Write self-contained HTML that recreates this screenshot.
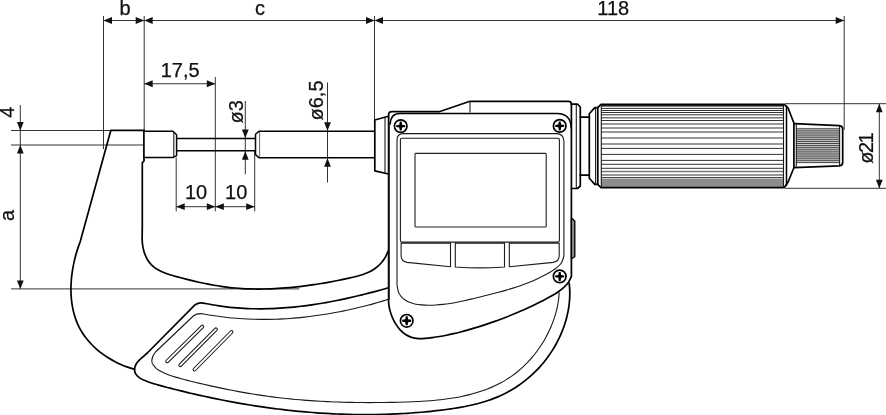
<!DOCTYPE html>
<html lang="de">
<head>
<meta charset="utf-8">
<title>Micrometer drawing</title>
<style>
html,body{margin:0;padding:0;background:#fff;}
body{width:886px;height:415px;overflow:hidden;}
svg{display:block;will-change:transform;}
text{font-family:"Liberation Sans",sans-serif;font-size:20px;fill:#111;stroke:#111;stroke-width:0.25px;}
.n{stroke:#333;stroke-width:1;fill:none;}
.k{stroke:#000;stroke-width:1.7;fill:none;stroke-linejoin:round;stroke-linecap:round;}
.m{stroke:#1a1a1a;stroke-width:1.1;fill:none;stroke-linejoin:round;}
.l{stroke:#222;stroke-width:1.1;fill:none;}
.sc{stroke:#000;stroke-width:2.2;fill:none;}
.sk{stroke:#000;stroke-width:1.7;fill:#fff;}
.g{stroke:#666;stroke-width:1;fill:none;}
.k2{stroke:#000;stroke-width:1.5;fill:none;stroke-linejoin:round;stroke-linecap:round;}
.kn{stroke:#1c1c1c;stroke-width:0.9;}
.kg{stroke:#777;stroke-width:1.5;}
.kr{stroke:#2e2e2e;stroke-width:0.85;}
.ar{fill:#111;stroke:none;}
</style>
</head>
<body>
<svg width="886" height="415" viewBox="0 0 886 415">
<line class="n" x1="103.5" y1="16" x2="103.5" y2="149"/>
<line class="n" x1="144.2" y1="16" x2="144.2" y2="130.3"/>
<line class="n" x1="374.5" y1="16" x2="374.5" y2="120"/>
<line class="n" x1="844.2" y1="16" x2="844.2" y2="130"/>
<line class="n" x1="103.5" y1="20.5" x2="844.2" y2="20.5"/>
<polygon class="ar" points="103.5,20.5 112,17.1 112,23.9"/>
<polygon class="ar" points="144.2,20.5 135.7,17.1 135.7,23.9"/>
<polygon class="ar" points="144.2,20.5 152.7,17.1 152.7,23.9"/>
<polygon class="ar" points="374.5,20.5 366,17.1 366,23.9"/>
<polygon class="ar" points="374.5,20.5 383,17.1 383,23.9"/>
<polygon class="ar" points="844.2,20.5 835.7,17.1 835.7,23.9"/>
<text x="125" y="14.7" text-anchor="middle">b</text>
<text x="260" y="14.7" text-anchor="middle">c</text>
<text x="613.3" y="14.7" text-anchor="middle">118</text>
<line class="n" x1="215.3" y1="77" x2="215.3" y2="211.3"/>
<line class="n" x1="144.2" y1="83.75" x2="215.3" y2="83.75"/>
<polygon class="ar" points="144.2,83.75 152.7,80.35 152.7,87.15"/>
<polygon class="ar" points="215.3,83.75 206.8,80.35 206.8,87.15"/>
<text x="180.2" y="77.4" text-anchor="middle">17,5</text>
<line class="n" x1="11" y1="130.5" x2="111" y2="130.5"/>
<line class="n" x1="11" y1="145" x2="144.2" y2="145"/>
<line class="n" x1="11" y1="288.9" x2="299.3" y2="288.9"/>
<line class="n" x1="20.3" y1="105" x2="20.3" y2="288.9"/>
<polygon class="ar" points="20.3,130.5 16.9,122 23.7,122"/>
<polygon class="ar" points="20.3,145 16.9,153.5 23.7,153.5"/>
<polygon class="ar" points="20.3,288.9 16.9,280.4 23.7,280.4"/>
<text transform="translate(13.9 112.2) rotate(-90)" text-anchor="middle">4</text>
<text transform="translate(14.4 215.5) rotate(-90)" text-anchor="middle">a</text>
<line class="n" x1="176.2" y1="157.5" x2="176.2" y2="211.3"/>
<line class="n" x1="254.7" y1="151" x2="254.7" y2="211.3"/>
<line class="n" x1="176.2" y1="206.7" x2="254.7" y2="206.7"/>
<polygon class="ar" points="176.2,206.7 184.7,203.3 184.7,210.1"/>
<polygon class="ar" points="215.3,206.7 206.8,203.3 206.8,210.1"/>
<polygon class="ar" points="215.3,206.7 223.8,203.3 223.8,210.1"/>
<polygon class="ar" points="254.7,206.7 246.2,203.3 246.2,210.1"/>
<text x="196" y="198.7" text-anchor="middle">10</text>
<text x="236.2" y="198.7" text-anchor="middle">10</text>
<line class="n" x1="245.3" y1="101" x2="245.3" y2="174.3"/>
<polygon class="ar" points="245.3,138 241.9,129.5 248.7,129.5"/>
<polygon class="ar" points="245.3,151.2 241.9,159.7 248.7,159.7"/>
<text transform="translate(242.5 111.75) rotate(-90)" text-anchor="middle">ø3</text>
<line class="n" x1="327.5" y1="82.5" x2="327.5" y2="182.5"/>
<polygon class="ar" points="327.5,130.8 324.1,122.3 330.9,122.3"/>
<polygon class="ar" points="327.5,158.2 324.1,166.7 330.9,166.7"/>
<text transform="translate(322.5 100.5) rotate(-90)" text-anchor="middle">ø6,5</text>
<line class="n" x1="785" y1="103.7" x2="886" y2="103.7"/>
<line class="n" x1="785" y1="188.3" x2="886" y2="188.3"/>
<line class="n" x1="879.3" y1="103.7" x2="879.3" y2="188.3"/>
<polygon class="ar" points="879.3,103.7 875.9,112.2 882.7,112.2"/>
<polygon class="ar" points="879.3,188.3 875.9,179.8 882.7,179.8"/>
<text transform="translate(872.9 148.8) rotate(-90)" text-anchor="middle" style="letter-spacing:-1.5px">ø21</text>
<path class="k" d="M144.2 130.4 L110.8 130.4 L80.2 241.7 C79.8 242.81 78.57 246.11 77.83 248.37 C77.08 250.64 76.38 252.95 75.75 255.29 C75.11 257.62 74.52 260 74 262.39 C73.47 264.78 73 267.2 72.61 269.62 C72.21 272.05 71.88 274.5 71.62 276.95 C71.36 279.39 71.17 281.86 71.06 284.31 C70.96 286.76 70.92 289.21 70.97 291.65 C71.03 294.08 71.16 296.52 71.38 298.92 C71.61 301.33 71.92 303.72 72.33 306.08 C72.74 308.43 73.24 310.77 73.85 313.06 C74.45 315.36 75.15 317.62 75.97 319.83 C76.78 322.04 77.69 324.21 78.73 326.32 C79.76 328.44 80.9 330.5 82.16 332.5 C83.41 334.49 84.78 336.44 86.24 338.31 C87.71 340.18 89.28 342 90.93 343.74 C92.57 345.49 94.32 347.17 96.13 348.77 C97.94 350.38 99.84 351.92 101.79 353.38 C103.74 354.84 105.77 356.23 107.83 357.54 C109.9 358.85 112.03 360.08 114.2 361.23 C116.36 362.38 118.57 363.45 120.81 364.44 C123.04 365.42 125.32 366.32 127.6 367.13 C129.88 367.94 133.35 368.94 134.5 369.3"/>
<path class="k" d="M144 157.5 V161 L142.3 162.8 V226 C142.29 227.18 142.24 230.72 142.22 233.09 C142.2 235.46 142.03 237.82 142.17 240.23 C142.3 242.64 142.55 245.14 143.03 247.55 C143.51 249.95 144.18 252.41 145.06 254.66 C145.93 256.91 147.01 259.12 148.3 261.04 C149.59 262.97 151.12 264.7 152.82 266.21 C154.51 267.71 156.45 268.96 158.47 270.09 C160.48 271.23 162.69 272.15 164.92 273.01 C167.16 273.88 169.53 274.59 171.87 275.3 C174.21 276.01 176.61 276.63 178.97 277.27 C181.33 277.9 183.69 278.52 186.04 279.12 C188.39 279.72 190.73 280.3 193.07 280.86 C195.41 281.41 197.74 281.95 200.07 282.46 C202.4 282.97 204.73 283.46 207.06 283.92 C209.39 284.38 211.72 284.82 214.05 285.23 C216.38 285.63 218.71 286.01 221.05 286.35 C223.39 286.7 225.73 287.01 228.08 287.29 C230.43 287.56 232.78 287.81 235.15 288.02 C237.51 288.23 239.88 288.4 242.25 288.55 C244.63 288.69 247.01 288.8 249.39 288.88 C251.77 288.96 254.16 289.01 256.55 289.03 C258.94 289.05 261.33 289.04 263.73 289 C266.12 288.96 268.52 288.9 270.92 288.81 C273.32 288.71 275.72 288.6 278.11 288.45 C280.51 288.31 282.91 288.14 285.31 287.95 C287.7 287.76 290.1 287.55 292.49 287.31 C294.88 287.07 297.28 286.82 299.66 286.54 C302.05 286.26 304.43 285.96 306.81 285.64 C309.19 285.33 311.56 284.99 313.93 284.64 C316.29 284.28 318.66 283.91 321.01 283.53 C323.36 283.14 325.71 282.74 328.05 282.32 C330.39 281.91 332.72 281.48 335.04 281.03 C337.36 280.59 339.68 280.13 341.99 279.65 C344.31 279.17 346.62 278.67 348.95 278.14 C351.27 277.61 353.61 277.07 355.94 276.46 C358.27 275.85 360.66 275.26 362.94 274.48 C365.22 273.71 367.51 272.87 369.64 271.8 C371.76 270.73 373.82 269.48 375.7 268.05 C377.59 266.63 379.36 265.01 380.94 263.25 C382.51 261.49 383.95 259.55 385.16 257.5 C386.37 255.44 387.69 252 388.2 250.9"/>
<path class="k" d="M388.5 287.8 C387.36 288.12 383.93 289.09 381.64 289.72 C379.35 290.35 377.06 290.98 374.76 291.59 C372.46 292.2 370.15 292.8 367.84 293.39 C365.53 293.99 363.22 294.57 360.9 295.13 C358.58 295.7 356.26 296.25 353.93 296.79 C351.61 297.33 349.28 297.86 346.94 298.38 C344.61 298.89 342.27 299.39 339.93 299.87 C337.59 300.35 335.25 300.82 332.9 301.27 C330.55 301.72 328.2 302.16 325.85 302.57 C323.5 302.99 321.14 303.39 318.79 303.77 C316.43 304.15 314.07 304.51 311.71 304.85 C309.34 305.2 306.98 305.52 304.61 305.82 C302.25 306.12 299.88 306.4 297.51 306.66 C295.14 306.92 292.77 307.16 290.4 307.37 C288.03 307.58 285.65 307.78 283.28 307.94 C280.91 308.11 278.53 308.25 276.16 308.37 C273.78 308.49 271.4 308.59 269.03 308.65 C266.65 308.72 264.27 308.76 261.9 308.78 C259.52 308.79 257.14 308.78 254.77 308.74 C252.39 308.7 250.01 308.63 247.64 308.53 C245.26 308.43 242.89 308.31 240.51 308.15 C238.14 307.99 235.76 307.81 233.39 307.59 C231.02 307.37 228.65 307.12 226.28 306.84 C223.91 306.55 221.54 306.24 219.18 305.89 C216.81 305.54 214.44 305.16 212.08 304.75 C209.72 304.33 206.18 303.62 205 303.4 Q199 301.9 195.2 304.7 L147.8 352.5 C147.08 353.15 144.9 355.13 143.5 356.4 C142.1 357.67 140.62 358.83 139.4 360.1 C138.18 361.37 137 362.58 136.2 364 C135.4 365.42 134.73 367.03 134.6 368.6 C134.47 370.17 134.63 371.9 135.4 373.4 C136.17 374.9 137.52 376.37 139.2 377.6 C140.88 378.83 143.07 379.77 145.5 380.8 C147.93 381.83 151.29 382.99 153.8 383.8 C156.31 384.61 158.31 385.04 160.57 385.65 C162.83 386.26 165.09 386.86 167.36 387.45 C169.63 388.04 171.89 388.62 174.16 389.2 C176.43 389.78 178.71 390.34 180.98 390.9 C183.26 391.46 185.53 392.01 187.81 392.55 C190.09 393.09 192.38 393.63 194.66 394.15 C196.95 394.68 199.23 395.19 201.52 395.7 C203.81 396.2 206.1 396.7 208.39 397.19 C210.69 397.68 212.98 398.16 215.28 398.63 C217.58 399.1 219.88 399.56 222.18 400.01 C224.48 400.46 226.78 400.9 229.09 401.34 C231.39 401.77 233.7 402.19 236.01 402.61 C238.31 403.02 240.62 403.42 242.94 403.82 C245.25 404.21 247.56 404.6 249.88 404.97 C252.19 405.34 254.51 405.71 256.83 406.06 C259.14 406.41 261.46 406.76 263.78 407.09 C266.11 407.42 268.43 407.75 270.75 408.06 C273.08 408.37 275.4 408.67 277.73 408.97 C280.05 409.26 282.38 409.54 284.71 409.81 C287.04 410.08 289.37 410.34 291.7 410.59 C294.03 410.83 296.36 411.07 298.7 411.3 C301.03 411.52 303.36 411.74 305.7 411.94 C308.04 412.15 310.37 412.34 312.71 412.52 C315.05 412.7 317.38 412.87 319.72 413.03 C322.06 413.19 324.4 413.34 326.74 413.47 C329.08 413.61 331.42 413.73 333.76 413.84 C336.1 413.95 338.45 414.05 340.79 414.14 C343.13 414.23 345.47 414.31 347.82 414.37 C350.16 414.43 352.5 414.49 354.85 414.52 C357.19 414.56 359.54 414.59 361.88 414.6 C364.23 414.62 366.57 414.62 368.92 414.61 C371.26 414.6 373.61 414.58 375.95 414.54 C378.3 414.5 380.65 414.46 382.99 414.39 C385.34 414.33 387.68 414.26 390.03 414.17 C392.37 414.08 394.72 413.98 397.07 413.87 C399.41 413.75 401.76 413.63 404.1 413.49 C406.45 413.35 408.79 413.19 411.14 413.02 C413.48 412.86 415.83 412.68 418.17 412.48 C420.52 412.29 422.86 412.08 425.2 411.85 C427.55 411.63 429.89 411.4 432.23 411.15 C434.57 410.9 436.92 410.63 439.26 410.35 C441.6 410.07 443.94 409.78 446.28 409.47 C448.61 409.16 450.95 408.83 453.28 408.48 C455.6 408.12 457.93 407.75 460.24 407.34 C462.55 406.93 464.86 406.5 467.15 406.02 C469.44 405.55 471.73 405.05 473.99 404.5 C476.26 403.95 478.51 403.37 480.75 402.74 C482.98 402.11 485.2 401.44 487.4 400.71 C489.6 399.98 491.77 399.21 493.93 398.37 C496.08 397.54 498.21 396.65 500.32 395.7 C502.42 394.75 504.5 393.74 506.55 392.67 C508.6 391.6 510.63 390.46 512.62 389.26 C514.6 388.07 516.56 386.81 518.48 385.5 C520.4 384.18 522.29 382.81 524.14 381.38 C525.99 379.95 527.8 378.47 529.56 376.93 C531.33 375.4 533.06 373.8 534.74 372.16 C536.41 370.52 538.05 368.83 539.64 367.08 C541.22 365.34 542.76 363.55 544.25 361.71 C545.73 359.87 547.17 357.99 548.55 356.06 C549.92 354.13 551.25 352.16 552.51 350.15 C553.78 348.14 554.98 346.1 556.13 344.02 C557.27 341.94 558.35 339.82 559.37 337.69 C560.38 335.55 561.33 333.38 562.21 331.18 C563.09 328.99 563.9 326.77 564.64 324.54 C565.37 322.31 566.04 320.05 566.62 317.79 C567.21 315.52 567.72 313.23 568.15 310.94 C568.57 308.66 568.92 306.35 569.19 304.05 C569.45 301.74 569.63 299.43 569.73 297.12 C569.82 294.81 569.82 292.5 569.74 290.2 C569.65 287.89 569.29 284.45 569.2 283.3"/>
<path class="m" d="M388.5 299.3 C387.35 299.65 383.92 300.7 381.62 301.37 C379.32 302.05 377.02 302.71 374.71 303.35 C372.4 304 370.09 304.62 367.77 305.23 C365.45 305.84 363.13 306.43 360.8 307.01 C358.47 307.58 356.14 308.14 353.8 308.68 C351.46 309.21 349.12 309.73 346.77 310.24 C344.43 310.74 342.08 311.22 339.73 311.68 C337.37 312.15 335.02 312.59 332.66 313.02 C330.3 313.44 327.94 313.85 325.57 314.23 C323.2 314.62 320.84 314.99 318.46 315.33 C316.09 315.67 313.72 316 311.34 316.3 C308.97 316.6 306.59 316.89 304.21 317.15 C301.83 317.41 299.45 317.65 297.06 317.86 C294.68 318.08 292.29 318.27 289.91 318.44 C287.52 318.62 285.13 318.76 282.74 318.89 C280.35 319.02 277.96 319.12 275.57 319.2 C273.18 319.28 270.79 319.33 268.4 319.37 C266.01 319.4 263.62 319.4 261.22 319.39 C258.83 319.37 256.44 319.33 254.05 319.26 C251.66 319.19 249.27 319.1 246.88 318.99 C244.49 318.87 242.1 318.73 239.71 318.56 C237.32 318.39 234.93 318.19 232.55 317.97 C230.16 317.75 227.78 317.5 225.39 317.22 C223.01 316.95 220.63 316.65 218.25 316.32 C215.87 315.99 213.49 315.63 211.12 315.24 C208.74 314.86 205.19 314.21 204 314 Q197.5 312.8 193.3 316 L155.5 352 Q150.5 358 152.3 363.5 C153.03 364.39 154.97 367.36 156.68 368.81 C158.4 370.27 160.55 371.21 162.59 372.23 C164.63 373.24 166.78 374.08 168.93 374.9 C171.07 375.72 173.26 376.44 175.46 377.13 C177.67 377.82 179.91 378.44 182.15 379.05 C184.4 379.66 186.67 380.21 188.94 380.78 C191.21 381.35 193.49 381.9 195.78 382.44 C198.06 382.99 200.36 383.53 202.65 384.06 C204.95 384.59 207.25 385.12 209.56 385.63 C211.86 386.15 214.17 386.65 216.49 387.15 C218.8 387.65 221.12 388.13 223.44 388.61 C225.76 389.09 228.08 389.55 230.4 390.01 C232.72 390.46 235.05 390.91 237.37 391.34 C239.7 391.77 242.03 392.19 244.35 392.6 C246.68 393.01 249 393.4 251.33 393.78 C253.65 394.17 255.97 394.53 258.29 394.89 C260.61 395.24 262.93 395.58 265.25 395.91 C267.56 396.24 269.88 396.55 272.19 396.85 C274.5 397.15 276.81 397.43 279.12 397.7 C281.43 397.98 283.74 398.24 286.05 398.48 C288.35 398.73 290.66 398.96 292.97 399.18 C295.27 399.41 297.58 399.61 299.88 399.81 C302.19 400.01 304.49 400.19 306.8 400.37 C309.1 400.54 311.41 400.7 313.72 400.86 C316.02 401.01 318.33 401.15 320.64 401.28 C322.95 401.41 325.26 401.53 327.57 401.63 C329.88 401.74 332.2 401.84 334.51 401.93 C336.83 402.02 339.14 402.1 341.46 402.17 C343.78 402.24 346.1 402.3 348.43 402.35 C350.76 402.4 353.08 402.44 355.41 402.48 C357.75 402.51 360.08 402.54 362.42 402.55 C364.76 402.57 367.1 402.58 369.44 402.58 C371.79 402.58 374.14 402.58 376.5 402.56 C378.85 402.55 381.21 402.53 383.57 402.5 C385.94 402.47 388.31 402.44 390.68 402.4 C393.06 402.35 395.44 402.31 397.82 402.25 C400.21 402.2 402.6 402.14 404.99 402.06 C407.38 401.99 409.78 401.91 412.17 401.81 C414.57 401.71 416.96 401.6 419.35 401.47 C421.74 401.33 424.14 401.19 426.52 401.02 C428.91 400.84 431.29 400.65 433.66 400.44 C436.03 400.22 438.4 399.98 440.76 399.71 C443.11 399.44 445.46 399.14 447.8 398.81 C450.13 398.48 452.46 398.12 454.77 397.72 C457.08 397.32 459.38 396.89 461.65 396.42 C463.93 395.94 466.2 395.43 468.44 394.88 C470.68 394.33 472.91 393.73 475.12 393.09 C477.32 392.45 479.5 391.77 481.66 391.03 C483.82 390.29 485.96 389.51 488.07 388.67 C490.18 387.83 492.26 386.94 494.32 385.99 C496.38 385.05 498.4 384.05 500.4 382.98 C502.4 381.92 504.37 380.8 506.3 379.61 C508.23 378.42 510.14 377.18 512 375.86 C513.87 374.55 515.7 373.17 517.49 371.71 C519.28 370.26 521.04 368.74 522.75 367.15 C524.47 365.56 526.14 363.9 527.77 362.19 C529.39 360.48 530.98 358.7 532.51 356.87 C534.04 355.04 535.52 353.16 536.95 351.23 C538.38 349.31 539.75 347.33 541.06 345.31 C542.38 343.3 543.64 341.24 544.83 339.15 C546.02 337.07 547.15 334.94 548.22 332.79 C549.28 330.64 550.28 328.46 551.2 326.26 C552.13 324.06 552.98 321.84 553.76 319.61 C554.54 317.37 555.24 315.12 555.86 312.86 C556.49 310.61 557.03 308.34 557.49 306.07 C557.95 303.81 558.32 301.54 558.61 299.27 C558.89 297.01 559.1 293.63 559.2 292.5"/>
<line x1="202.3" y1="326.6" x2="167.2" y2="361.3" stroke="#111" stroke-width="3.9" stroke-linecap="round"/>
<line x1="202.3" y1="326.6" x2="167.2" y2="361.3" stroke="#fff" stroke-width="1.9" stroke-linecap="round"/>
<line x1="215.9" y1="329.4" x2="180.3" y2="365.2" stroke="#111" stroke-width="3.9" stroke-linecap="round"/>
<line x1="215.9" y1="329.4" x2="180.3" y2="365.2" stroke="#fff" stroke-width="1.9" stroke-linecap="round"/>
<line x1="231.5" y1="332" x2="194.5" y2="369.5" stroke="#111" stroke-width="3.9" stroke-linecap="round"/>
<line x1="231.5" y1="332" x2="194.5" y2="369.5" stroke="#fff" stroke-width="1.9" stroke-linecap="round"/>
<path class="k2" d="M143.9 131.2 H172.9 L176.6 134.7 V155.7 L172.9 157.5 H143.9"/>
<line class="k" x1="143.9" y1="130.4" x2="143.9" y2="157.5"/>
<line class="m" x1="173.8" y1="131.8" x2="173.8" y2="157"/>
<line class="k2" x1="176.6" y1="138.5" x2="255.5" y2="138.5"/>
<line class="k2" x1="176.6" y1="150.7" x2="255.5" y2="150.7"/>
<path class="k2" d="M374.5 131.2 H259 L255.5 134.3 V154.6 L259 157.7 H374.5"/>
<line class="g" x1="259.6" y1="132" x2="259.6" y2="156.8"/>
<path class="k" d="M388.5 116.3 L374.8 120 V170.8 L388.5 174"/>
<line class="m" x1="385" y1="117.3" x2="385" y2="173.2"/>
<path class="k" d="M388.6 297 V115 Q388.6 111.7 392 111.7 H439.2 L470 101.3 H568.5 Q571.4 101.3 571.4 104 V276.5 C570.89 277.5 569.63 280.66 568.37 282.49 C567.11 284.31 565.5 285.89 563.83 287.43 C562.17 288.96 560.29 290.35 558.36 291.7 C556.44 293.04 554.36 294.27 552.29 295.48 C550.22 296.69 548.06 297.82 545.93 298.95 C543.8 300.08 541.65 301.17 539.52 302.25 C537.38 303.32 535.24 304.37 533.1 305.4 C530.95 306.43 528.81 307.43 526.66 308.41 C524.51 309.39 522.36 310.35 520.2 311.29 C518.05 312.23 515.89 313.15 513.73 314.04 C511.56 314.94 509.39 315.82 507.22 316.67 C505.04 317.53 502.86 318.36 500.68 319.18 C498.49 320 496.3 320.8 494.1 321.58 C491.9 322.37 489.69 323.13 487.48 323.88 C485.26 324.63 483.04 325.36 480.81 326.07 C478.58 326.79 476.34 327.49 474.09 328.17 C471.84 328.85 469.58 329.51 467.31 330.15 C465.04 330.79 462.76 331.41 460.47 332 C458.18 332.59 455.88 333.16 453.57 333.69 C451.26 334.23 448.94 334.74 446.6 335.21 C444.26 335.68 441.92 336.13 439.55 336.53 C437.19 336.94 434.81 337.32 432.43 337.64 C430.05 337.96 427.63 338.3 425.26 338.45 C422.89 338.6 420.51 338.72 418.23 338.54 C415.95 338.37 413.7 338.06 411.6 337.39 C409.49 336.73 407.46 335.77 405.59 334.55 C403.72 333.33 401.96 331.78 400.35 330.1 C398.75 328.41 397.27 326.45 395.97 324.41 C394.66 322.38 393.5 320.14 392.52 317.88 C391.54 315.63 390.71 313.23 390.08 310.88 C389.46 308.54 389 306.11 388.75 303.8 C388.5 301.48 388.62 298.13 388.6 297"/>
<line class="m" x1="470" y1="101.3" x2="470" y2="112.5"/>
<path class="k2" d="M390.2 124 Q390.6 113.5 400 113.5 H557 Q571 113.8 571.2 128"/>
<path class="m" d="M389.2 300 V124 L390.2 122"/>
<path class="m" d="M563.9 256 V141 Q563.5 133.6 556.5 133.6 H403.5 Q397 133.6 397 140 V285 C397.29 286.27 397.78 290.42 398.72 292.63 C399.66 294.83 401.07 296.69 402.64 298.23 C404.21 299.77 406.13 300.92 408.13 301.87 C410.13 302.82 412.4 303.43 414.66 303.93 C416.93 304.44 419.37 304.68 421.74 304.89 C424.11 305.1 426.52 305.16 428.9 305.18 C431.28 305.2 433.65 305.12 436.01 304.99 C438.37 304.86 440.73 304.65 443.07 304.39 C445.42 304.13 447.76 303.8 450.09 303.43 C452.43 303.07 454.75 302.65 457.08 302.2 C459.4 301.75 461.72 301.26 464.03 300.75 C466.34 300.24 468.65 299.7 470.96 299.16 C473.27 298.61 475.58 298.04 477.88 297.48 C480.18 296.91 482.49 296.35 484.78 295.78 C487.08 295.21 489.38 294.64 491.67 294.06 C493.97 293.47 496.26 292.88 498.54 292.27 C500.82 291.67 503.1 291.05 505.37 290.4 C507.63 289.75 509.89 289.09 512.14 288.39 C514.39 287.69 516.64 286.97 518.86 286.22 C521.09 285.46 523.31 284.67 525.52 283.83 C527.72 283 529.91 282.13 532.09 281.21 C534.26 280.29 536.42 279.33 538.57 278.31 C540.71 277.29 542.84 276.23 544.95 275.1 C547.05 273.97 549.19 272.81 551.21 271.53 C553.23 270.26 555.35 268.98 557.09 267.46 C558.83 265.95 560.52 264.36 561.66 262.45 C562.79 260.54 563.53 257.07 563.9 256"/>
<rect class="m" x="400.4" y="138.2" width="159" height="103.9" rx="1.5"/>
<rect class="l" x="415" y="153.4" width="131.2" height="73.6" rx="0.8"/>
<path class="m" d="M401.9 243.1 H450.5 V266.7 L407 262.4 Q401.1 261.4 401.1 255.5 V243.1 Z"/>
<path class="m" d="M455.3 243.1 H504.5 V267 Q480 268.8 455.3 267 Z"/>
<path class="m" d="M509.3 243.1 H559.2 V255.5 Q559.2 261.4 553.3 262.4 L509.3 266.7 Z"/>
<path d="M571.4 218 L574.8 221 V256.8 L571.4 258.8 Z" fill="#8a8a8a" stroke="#000" stroke-width="1.3" stroke-linejoin="round"/>
<circle class="sk" cx="400.7" cy="126.1" r="6.3"/>
<polygon fill="#000" points="402.15,124.65 405.2,125.15 405.2,127.05 402.15,127.55 401.65,130.6 399.75,130.6 399.25,127.55 396.2,127.05 396.2,125.15 399.25,124.65 399.75,121.6 401.65,121.6"/>
<circle class="sk" cx="559.7" cy="125.9" r="6.3"/>
<polygon fill="#000" points="561.15,124.45 564.2,124.95 564.2,126.85 561.15,127.35 560.65,130.4 558.75,130.4 558.25,127.35 555.2,126.85 555.2,124.95 558.25,124.45 558.75,121.4 560.65,121.4"/>
<circle class="sk" cx="406.7" cy="320.8" r="6.3"/>
<polygon fill="#000" points="408.15,319.35 411.2,319.85 411.2,321.75 408.15,322.25 407.65,325.3 405.75,325.3 405.25,322.25 402.2,321.75 402.2,319.85 405.25,319.35 405.75,316.3 407.65,316.3"/>
<circle class="sk" cx="559.7" cy="276.4" r="6.3"/>
<polygon fill="#000" points="561.15,274.95 564.2,275.45 564.2,277.35 561.15,277.85 560.65,280.9 558.75,280.9 558.25,277.85 555.2,277.35 555.2,275.45 558.25,274.95 558.75,271.9 560.65,271.9"/>
<path class="k" d="M571.4 104.2 H577.5 L580.3 107 V186 L577.5 188.5 H571.4"/>
<line class="m" x1="576.3" y1="104.8" x2="576.3" y2="188"/>
<line class="k" x1="580.3" y1="117.1" x2="589.2" y2="117.1"/>
<line class="k" x1="580.3" y1="175.1" x2="589.2" y2="175.1"/>
<line class="kn" x1="601.2" y1="108.4" x2="783.5" y2="108.4"/>
<line class="kn" x1="601.2" y1="110.5" x2="783.5" y2="110.5"/>
<line class="kn" x1="601.2" y1="112.5" x2="783.5" y2="112.5"/>
<line class="kn" x1="601.2" y1="114.8" x2="783.5" y2="114.8"/>
<line class="kg" x1="601.2" y1="117.7" x2="783.5" y2="117.7"/>
<line class="kn" x1="601.2" y1="120.5" x2="783.5" y2="120.5"/>
<line class="kg" x1="601.2" y1="123.9" x2="783.5" y2="123.9"/>
<line class="kg" x1="601.2" y1="127.9" x2="783.5" y2="127.9"/>
<line class="kg" x1="601.2" y1="132" x2="783.5" y2="132"/>
<line class="kg" x1="601.2" y1="138" x2="783.5" y2="138"/>
<line class="kg" x1="601.2" y1="143.9" x2="783.5" y2="143.9"/>
<line class="kn" x1="601.2" y1="148.4" x2="783.5" y2="148.4"/>
<line class="kn" x1="601.2" y1="154.4" x2="783.5" y2="154.4"/>
<line class="kn" x1="601.2" y1="160.4" x2="783.5" y2="160.4"/>
<line class="kn" x1="601.2" y1="164.3" x2="783.5" y2="164.3"/>
<line class="kn" x1="601.2" y1="168.3" x2="783.5" y2="168.3"/>
<line class="kg" x1="601.2" y1="171.5" x2="783.5" y2="171.5"/>
<line class="kg" x1="601.2" y1="174.9" x2="783.5" y2="174.9"/>
<line class="kn" x1="601.2" y1="177.6" x2="783.5" y2="177.6"/>
<rect x="601.2" y="178.6" width="182.3" height="8.6" fill="#8c8c8c"/>
<rect x="601.2" y="104.6" width="182.3" height="2.0" fill="#2a2a2a"/>
<path class="k" d="M589.3 113.7 L594.8 107.6 H597.7 L601 104.3 H784.3 L788.1 108.1 L793.9 123 V167.7 L788.1 182 L784.3 187.6 H601 L597.7 184.4 H594.8 L589.3 178.3 Z"/>
<line class="m" x1="595.6" y1="107.6" x2="595.6" y2="184.3"/>
<line class="k" x1="597.8" y1="107.6" x2="597.8" y2="184.3"/>
<line class="m" x1="601.3" y1="104.3" x2="601.3" y2="187.6"/>
<line class="m" x1="783.5" y1="104.3" x2="783.5" y2="187.6"/>
<line class="k2" x1="786.5" y1="106" x2="786.5" y2="185.5"/>
<rect x="796.3" y="127.8" width="43.1" height="35.6" fill="#c8c8c8"/>
<line class="kr" x1="796.3" y1="128.8" x2="839.4" y2="128.8"/>
<line class="kr" x1="796.3" y1="130.9" x2="839.4" y2="130.9"/>
<line class="kr" x1="796.3" y1="133" x2="839.4" y2="133"/>
<line class="kr" x1="796.3" y1="135.1" x2="839.4" y2="135.1"/>
<line class="kr" x1="796.3" y1="137.2" x2="839.4" y2="137.2"/>
<line class="kr" x1="796.3" y1="139.3" x2="839.4" y2="139.3"/>
<line class="kr" x1="796.3" y1="141.4" x2="839.4" y2="141.4"/>
<line class="kr" x1="796.3" y1="143.5" x2="839.4" y2="143.5"/>
<line class="kr" x1="796.3" y1="145.6" x2="839.4" y2="145.6"/>
<line class="kr" x1="796.3" y1="147.7" x2="839.4" y2="147.7"/>
<line class="kr" x1="796.3" y1="149.8" x2="839.4" y2="149.8"/>
<line class="kr" x1="796.3" y1="151.9" x2="839.4" y2="151.9"/>
<line class="kr" x1="796.3" y1="154" x2="839.4" y2="154"/>
<line class="kr" x1="796.3" y1="156.1" x2="839.4" y2="156.1"/>
<line class="kr" x1="796.3" y1="158.2" x2="839.4" y2="158.2"/>
<line class="kr" x1="796.3" y1="160.3" x2="839.4" y2="160.3"/>
<line class="kr" x1="796.3" y1="162.4" x2="839.4" y2="162.4"/>
<path class="k" d="M793.9 123.6 L839.3 125.6 Q842.6 125.9 842.7 129 V162.5 Q842.6 165.6 839.3 165.9 L793.9 167.6"/>
<line class="m" x1="796.3" y1="124" x2="796.3" y2="167"/>
<line class="m" x1="839.6" y1="126" x2="839.6" y2="165.4"/>
</svg>
</body>
</html>
